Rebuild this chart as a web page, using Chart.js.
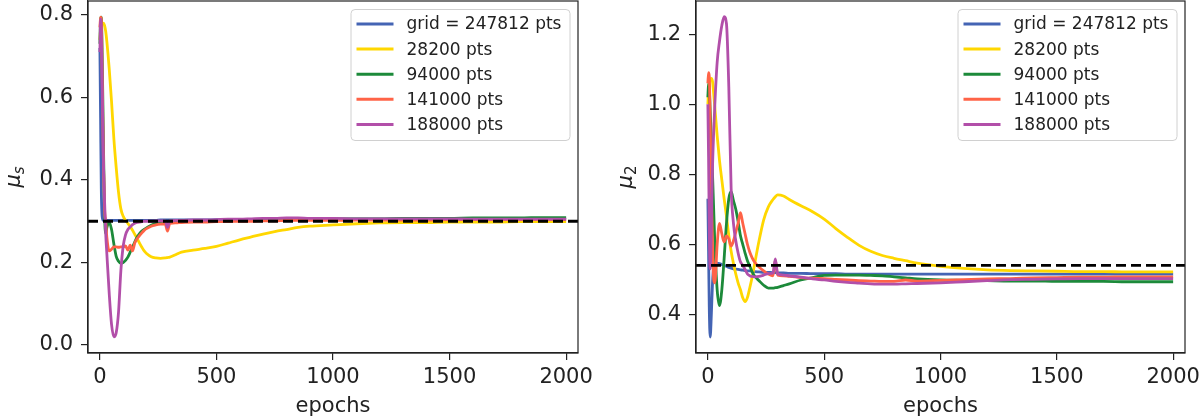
<!DOCTYPE html>
<html lang="en">
<head>
<meta charset="utf-8" />
<title>mu_s and mu_2 vs epochs</title>
<style>
  * { margin: 0; padding: 0; }
  body { background: #fff; width: 1200px; height: 419px; overflow: hidden; }
  .row { display: flex; }
  canvas { display: block; }
</style>
</head>
<body>
<div class="row">
  <canvas id="chartMuS" width="600" height="419"></canvas>
  <canvas id="chartMu2" width="600" height="419"></canvas>
</div>
<script src="https://cdn.jsdelivr.net/npm/chart.js"></script>
<script>
// data
const epochs = [0, 3, 6, 10, 15, 20, 25, 30,
  40, 50, 60, 70, 80, 90, 100,
  110, 120, 130, 140, 150, 160, 170, 180, 190, 200,
  220, 240, 260, 280, 290, 300,
  325, 350, 400, 450, 500,
  550, 600, 650, 700, 750, 800, 850, 900,
  1000, 1100, 1200, 1300, 1400, 1500, 1600, 1700, 1800, 1900, 2000];

const seriesLabels = ['grid = 247812 pts', '28200 pts', '94000 pts', '141000 pts', '188000 pts'];
const seriesColors = ['#4464b4', '#ffd700', '#1c8a3a', '#ff6347', '#b24fa9'];

const xTicks = [0, 500, 1000, 1500, 2000];
const muSTicks = [0.0, 0.2, 0.4, 0.6, 0.8];
const mu2Ticks = [0.4, 0.6, 0.8, 1.0, 1.2];
const muSRef = 0.3;
const mu2Ref = 0.54;

// left panel: mu_s
const muS_grid = [0.72, 0.55, 0.38, 0.31, 0.302, 0.302, 0.302, 0.302,
  0.302, 0.302, 0.302, 0.302, 0.302, 0.302, 0.302,
  0.302, 0.302, 0.302, 0.302, 0.302, 0.302, 0.302, 0.302, 0.302, 0.302,
  0.302, 0.302, 0.303, 0.303, 0.303, 0.303,
  0.303, 0.303, 0.303, 0.303, 0.304,
  0.304, 0.304, 0.304, 0.304, 0.304, 0.305, 0.305, 0.305,
  0.305, 0.305, 0.305, 0.305, 0.306, 0.306, 0.306, 0.306, 0.306, 0.306, 0.306];
const muS_28200 = [0.74, 0.765, 0.775, 0.778, 0.78, 0.775, 0.76, 0.735,
  0.67, 0.59, 0.5, 0.43, 0.37, 0.33, 0.312,
  0.302, 0.295, 0.287, 0.278, 0.268, 0.258, 0.247, 0.237, 0.228, 0.222,
  0.214, 0.211, 0.21, 0.211, 0.212, 0.213,
  0.219, 0.225, 0.23, 0.234, 0.239,
  0.247, 0.255, 0.262, 0.269, 0.275, 0.28, 0.285, 0.288,
  0.291, 0.294, 0.296, 0.297, 0.297, 0.298, 0.298, 0.298, 0.299, 0.299, 0.299];
const muS_94000 = [0.73, 0.79, 0.795, 0.7, 0.5, 0.32, 0.27, 0.285,
  0.298, 0.28, 0.245, 0.215, 0.203, 0.198, 0.2,
  0.205, 0.213, 0.225, 0.238, 0.25, 0.262, 0.27, 0.276, 0.28, 0.284,
  0.29, 0.295, 0.298, 0.299, 0.299, 0.3,
  0.3, 0.301, 0.301, 0.301, 0.302,
  0.302, 0.303, 0.303, 0.304, 0.304, 0.305, 0.305, 0.305,
  0.306, 0.306, 0.306, 0.307, 0.307, 0.307, 0.308, 0.308, 0.308, 0.309, 0.309];
const muS_141000 = [0.77, 0.795, 0.79, 0.65, 0.45, 0.33, 0.3, 0.26,
  0.228, 0.232, 0.238, 0.238, 0.237, 0.238, 0.238,
  0.24, 0.23, 0.242, 0.228, 0.248, 0.258, 0.265, 0.272, 0.278, 0.282,
  0.288, 0.291, 0.293, 0.294, 0.276, 0.295,
  0.296, 0.297, 0.298, 0.298, 0.299,
  0.299, 0.3, 0.3, 0.301, 0.301, 0.302, 0.302, 0.302,
  0.302, 0.303, 0.303, 0.303, 0.303, 0.304, 0.304, 0.304, 0.304, 0.304, 0.304];
const muS_188000 = [0.71, 0.79, 0.76, 0.62, 0.45, 0.35, 0.27, 0.22,
  0.125, 0.05, 0.02, 0.03, 0.08, 0.18, 0.24,
  0.267, 0.28, 0.286, 0.292, 0.295, 0.297, 0.298, 0.299, 0.3, 0.3,
  0.3, 0.301, 0.301, 0.301, 0.285, 0.301,
  0.302, 0.302, 0.303, 0.303, 0.304,
  0.305, 0.305, 0.306, 0.307, 0.307, 0.308, 0.308, 0.307,
  0.307, 0.306, 0.306, 0.306, 0.306, 0.306, 0.305, 0.305, 0.305, 0.305, 0.305];

// right panel: mu_2
const mu2_grid = [0.73, 0.58, 0.42, 0.335, 0.4, 0.49, 0.535, 0.543,
  0.546, 0.545, 0.542, 0.54, 0.537, 0.534, 0.532,
  0.53, 0.529, 0.528, 0.527, 0.526, 0.525, 0.524, 0.524, 0.523, 0.522,
  0.521, 0.52, 0.52, 0.519, 0.519, 0.518,
  0.518, 0.517, 0.517, 0.516, 0.516,
  0.516, 0.515, 0.515, 0.515, 0.515, 0.515, 0.515, 0.515,
  0.515, 0.515, 0.515, 0.515, 0.515, 0.515, 0.515, 0.515, 0.515, 0.515, 0.515];
const mu2_28200 = [1.0, 1.04, 1.06, 1.07, 1.074, 1.065, 1.03, 0.99,
  0.91, 0.84, 0.784, 0.73, 0.68, 0.625, 0.58,
  0.545, 0.515, 0.49, 0.47, 0.447, 0.436, 0.448, 0.475, 0.505, 0.54,
  0.61, 0.67, 0.707, 0.728, 0.736, 0.741,
  0.738, 0.728, 0.71, 0.693, 0.672,
  0.645, 0.62, 0.597, 0.58, 0.568, 0.56, 0.553, 0.546,
  0.537, 0.531, 0.527, 0.525, 0.524, 0.523, 0.522, 0.522, 0.521, 0.521, 0.521];
const mu2_94000 = [1.02, 1.06, 1.05, 0.98, 0.9, 0.8, 0.7, 0.6,
  0.47, 0.425, 0.47, 0.56, 0.66, 0.73, 0.75,
  0.725, 0.7, 0.665, 0.625, 0.6, 0.575, 0.553, 0.538, 0.522, 0.51,
  0.496, 0.483, 0.475, 0.475, 0.476, 0.477,
  0.482, 0.487, 0.498, 0.505, 0.511,
  0.512, 0.512, 0.512, 0.511, 0.51, 0.507, 0.504, 0.501,
  0.498, 0.497, 0.496, 0.495, 0.495, 0.494, 0.494, 0.494, 0.493, 0.493, 0.493];
const mu2_141000 = [1.06, 1.09, 1.08, 0.95, 0.75, 0.6, 0.5, 0.49,
  0.6, 0.66, 0.63, 0.607, 0.624, 0.615, 0.595,
  0.61, 0.635, 0.66, 0.69, 0.66, 0.63, 0.6, 0.578, 0.562, 0.55,
  0.535, 0.524, 0.515, 0.51, 0.555, 0.512,
  0.51, 0.508, 0.505, 0.503, 0.502,
  0.5, 0.498, 0.496, 0.495, 0.494, 0.494, 0.498, 0.495,
  0.497, 0.499, 0.501, 0.502, 0.504, 0.505, 0.506, 0.506, 0.507, 0.507, 0.507];
const mu2_188000 = [1.0, 0.85, 0.65, 0.53, 0.65, 0.82, 0.92, 1.0,
  1.12, 1.18, 1.225, 1.25, 1.23, 1.05, 0.76,
  0.66, 0.61, 0.575, 0.55, 0.54, 0.528, 0.515, 0.51, 0.508, 0.507,
  0.508, 0.512, 0.516, 0.518, 0.558, 0.515,
  0.512, 0.51, 0.506, 0.501, 0.498,
  0.494, 0.491, 0.489, 0.487, 0.486, 0.486, 0.487, 0.488,
  0.49, 0.493, 0.496, 0.499, 0.5, 0.501, 0.502, 0.502, 0.502, 0.502, 0.502];

// setup
const FONT = '"DejaVu Sans", sans-serif';
const INK = '#222222';
const X_MIN = -51, X_MAX = 2051;

const toPoints = (ys) => epochs.map((e, i) => ({ x: e, y: ys[i] }));

const buildDatasets = (seriesList, refValue) => {
  const sets = seriesList.map((ys, i) => ({
    label: seriesLabels[i],
    data: toPoints(ys),
    borderColor: seriesColors[i],
    backgroundColor: seriesColors[i],
    borderWidth: 2.8,
    order: 10 - i, // later series on top, like matplotlib
  }));
  sets.push({
    label: 'reference',
    data: [{ x: X_MIN, y: refValue }, { x: X_MAX, y: refValue }],
    borderColor: '#000',
    borderWidth: 2.8,
    borderDash: [10, 5],
    order: 0,
    isRef: true,
  });
  return sets;
};

// full box around the plot area
const frame = {
  id: 'frame',
  afterDraw(chart) {
    const { ctx, chartArea: a } = chart;
    ctx.save();
    ctx.strokeStyle = INK;
    ctx.lineWidth = 1.2;
    ctx.strokeRect(a.left, a.top, a.right - a.left, a.bottom - a.top);
    ctx.restore();
  },
};

// matplotlib style legend in the upper right
const boxLegend = {
  id: 'boxLegend',
  afterDraw(chart) {
    const { ctx, chartArea: a } = chart;
    const items = chart.data.datasets.filter((d) => !d.isRef);
    const w = 219, h = 131;
    const x0 = a.right - 8.5 - w, y0 = a.top + 8;
    ctx.save();
    ctx.beginPath();
    ctx.roundRect(x0 + 0.5, y0 + 0.5, w, h, 4);
    ctx.fillStyle = 'rgba(255,255,255,0.85)';
    ctx.fill();
    ctx.strokeStyle = '#d0d0d0';
    ctx.lineWidth = 1;
    ctx.stroke();
    ctx.font = '17px ' + FONT;
    ctx.textBaseline = 'middle';
    items.forEach((d, i) => {
      const y = y0 + 15 + i * 25.1;
      ctx.strokeStyle = d.borderColor;
      ctx.lineWidth = 3;
      ctx.beginPath();
      ctx.moveTo(x0 + 6, y);
      ctx.lineTo(x0 + 43, y);
      ctx.stroke();
      ctx.fillStyle = INK;
      ctx.fillText(d.label, x0 + 56, y + 1);
    });
    ctx.restore();
  },
};

// rotated y label with a subscript, e.g. mu_s
const yLabel = {
  id: 'yLabel',
  afterDraw(chart, args, opts) {
    const { ctx, chartArea: a } = chart;
    ctx.save();
    ctx.translate(opts.x, (a.top + a.bottom) / 2);
    ctx.rotate(-Math.PI / 2);
    ctx.fillStyle = INK;
    ctx.textBaseline = 'alphabetic';
    ctx.font = 'italic 21px ' + FONT;
    const w1 = ctx.measureText('μ').width;
    const subFont = (opts.subItalic ? 'italic ' : '') + '15px ' + FONT;
    ctx.font = subFont;
    const w2 = ctx.measureText(opts.sub).width;
    const start = -(w1 + w2) / 2;
    ctx.font = 'italic 21px ' + FONT;
    ctx.fillText('μ', start, 4);
    ctx.font = subFont;
    ctx.fillText(opts.sub, start + w1, 8);
    ctx.restore();
  },
};

const makeChart = (id, datasets, yMin, yMax, yTicks, cfg) => {
  const tickFont = { family: FONT, size: 21 };
  return new Chart(document.getElementById(id), {
    type: 'line',
    data: { datasets },
    options: {
      responsive: false,
      animation: false,
      devicePixelRatio: 1,
      layout: { padding: { top: 1, right: cfg.padRight, left: 0, bottom: 0 } },
      elements: {
        point: { radius: 0 },
        line: { cubicInterpolationMode: 'monotone', fill: false },
      },
      plugins: {
        legend: { display: false },
        tooltip: { enabled: false },
        yLabel: { x: cfg.labelX, sub: cfg.sub, subItalic: cfg.subItalic },
      },
      scales: {
        x: {
          type: 'linear',
          min: X_MIN,
          max: X_MAX,
          afterBuildTicks: (s) => { s.ticks = xTicks.map((v) => ({ value: v })); },
          afterFit: (s) => { s.height = 66; s.paddingLeft = 0; s.paddingRight = 0; },
          grid: { drawOnChartArea: false, drawTicks: true, tickLength: 7, color: INK, lineWidth: 1.2 },
          border: { color: INK, width: 1.2 },
          ticks: { font: tickFont, color: INK, padding: 5, maxRotation: 0, callback: (v) => String(v) },
          title: { display: true, text: 'epochs', font: tickFont, color: INK, padding: { top: 0, bottom: 0 } },
        },
        y: {
          type: 'linear',
          min: yMin,
          max: yMax,
          afterBuildTicks: (s) => { s.ticks = yTicks.map((v) => ({ value: v })); },
          afterFit: (s) => { s.width = cfg.axisWidth; s.paddingTop = 0; s.paddingBottom = 0; },
          grid: { drawOnChartArea: false, drawTicks: true, tickLength: 7, color: INK, lineWidth: 1.2 },
          border: { color: INK, width: 1.2 },
          ticks: { font: tickFont, color: INK, padding: 8, callback: (v) => Number(v).toFixed(1) },
        },
      },
    },
    plugins: [frame, boxLegend, yLabel],
  });
};

// render init block
const chartMuS = makeChart('chartMuS',
  buildDatasets([muS_grid, muS_28200, muS_94000, muS_141000, muS_188000], muSRef),
  -0.0194, 0.834, muSTicks,
  { padRight: 22, axisWidth: 88, labelX: 16, sub: 's', subItalic: true });

const chartMu2 = makeChart('chartMu2',
  buildDatasets([mu2_grid, mu2_28200, mu2_94000, mu2_141000, mu2_188000], mu2Ref),
  0.2894, 1.295, mu2Ticks,
  { padRight: 15, axisWidth: 96, labelX: 28, sub: '2', subItalic: false });
</script>
</body>
</html>
